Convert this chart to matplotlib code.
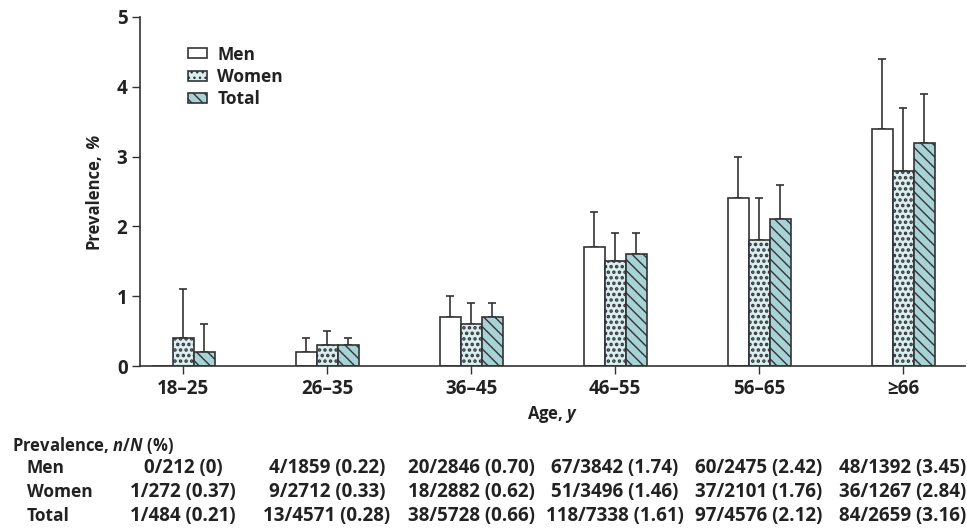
import matplotlib
matplotlib.use("Agg")
import matplotlib.pyplot as plt
import matplotlib.transforms as mtransforms
import numpy as np

plt.rcParams['font.family'] = ['Open Sans', 'DejaVu Sans']
plt.rcParams['font.weight'] = 'bold'
plt.rcParams['axes.labelweight'] = 'bold'
plt.rcParams['mathtext.fontset'] = 'custom'
plt.rcParams['mathtext.it'] = 'Open Sans:bold:italic'
plt.rcParams['mathtext.rm'] = 'Open Sans:bold'
plt.rcParams['mathtext.bf'] = 'Open Sans:bold'

categories = ["18–25", "26–35", "36–45", "46–55", "56–65", "≥66"]
series = ["Men", "Women", "Total"]
men = [0.0, 0.2, 0.7, 1.7, 2.4, 3.4]
women = [0.4, 0.3, 0.6, 1.5, 1.8, 2.8]
total = [0.2, 0.3, 0.7, 1.6, 2.1, 3.2]
men_upper = [0.0, 0.4, 1.0, 2.2, 3.0, 4.4]
women_upper = [1.1, 0.5, 0.9, 1.9, 2.4, 3.7]
total_upper = [0.6, 0.4, 0.9, 1.9, 2.6, 3.9]

table_header = "Prevalence, $n/N$ (%)"
table_rows = ["Men", "Women", "Total"]
men_counts = ["0/212 (0)", "4/1859 (0.22)", "20/2846 (0.70)", "67/3842 (1.74)", "60/2475 (2.42)", "48/1392 (3.45)"]
women_counts = ["1/272 (0.37)", "9/2712 (0.33)", "18/2882 (0.62)", "51/3496 (1.46)", "37/2101 (1.76)", "36/1267 (2.84)"]
total_counts = ["1/484 (0.21)", "13/4571 (0.28)", "38/5728 (0.66)", "118/7338 (1.61)", "97/4576 (2.12)", "84/2659 (3.16)"]

W, H = 967, 528
fig = plt.figure(figsize=(W / 100, H / 100), dpi=100)
ax = fig.add_axes([140 / W, 1 - 366 / H, 825 / W, 349 / H])

edge = '#333333'
txt = '#222222'
fills = ['white', '#d8eef0', '#a7d2d6']
hatches = [None, '...', '\\\\\\']
hatch_lw = [1.0, 1.7, 1.0]
values = [men, women, total]
uppers = [men_upper, women_upper, total_upper]

x = np.arange(len(categories))
bw = 0.146
offsets = [-bw, 0, bw]
handles = []
for i in range(3):
    plt.rcParams['hatch.linewidth'] = hatch_lw[i]
    plt.rcParams['hatch.color'] = edge
    b = ax.bar(x + offsets[i], values[i], width=bw, color=fills[i], edgecolor=edge,
               linewidth=1.2, hatch=hatches[i], label=series[i], zorder=2)
    handles.append(b)
    v = np.array(values[i])
    u = np.array(uppers[i])
    m = u > v
    ax.errorbar(x[m] + offsets[i], v[m], yerr=[np.zeros(m.sum()), (u - v)[m]],
                fmt='none', ecolor=edge, elinewidth=1.2, capsize=2.6, capthick=1.2, zorder=1)

ax.set_xlim(-0.299, 5.43)
ax.set_ylim(0, 5)
ax.set_xticks(x)
ax.set_xticklabels(categories)
ax.set_yticks([0, 1, 2, 3, 4, 5])
for s in ['top', 'right']:
    ax.spines[s].set_visible(False)
for s in ['left', 'bottom']:
    ax.spines[s].set_color(edge)
    ax.spines[s].set_linewidth(1.2)
ax.tick_params(axis='both', colors=edge, labelcolor=txt, length=6, width=1.0,
               labelsize=13.5, pad=3)

ax.set_ylabel("Prevalence,", fontsize=12, color=txt, fontweight='bold')
ax.yaxis.set_label_coords(-0.045, 0.473)
ax.annotate("%", xy=(0.5, 1), xycoords=ax.yaxis.label, xytext=(0, 3),
            textcoords='offset points', rotation=90, ha='center', va='bottom',
            fontsize=12, color=txt, fontweight='bold', fontstyle='italic')
ax.set_xlabel("Age, $y$", fontsize=12, color=txt, fontweight='bold')
ax.xaxis.set_label_coords(0.5, -0.11)

leg = ax.legend(handles=handles, loc='upper left', bbox_to_anchor=(0.0475, 0.943),
                frameon=False, fontsize=12.5, borderpad=0, handlelength=1.1,
                handleheight=0.5, handletextpad=0.6, labelspacing=0.25)
for t in leg.get_texts():
    t.set_color(txt)

trans = mtransforms.blended_transform_factory(ax.transData, fig.transFigure)
fig.text(12 / W, 1 - 446 / H, table_header, fontsize=12, va='center', ha='left', color=txt)
rows_y = [468, 492, 516]
for r, label, vals in zip(range(3), table_rows, [men_counts, women_counts, total_counts]):
    fig.text(27 / W, 1 - rows_y[r] / H, label, fontsize=12.5, va='center', ha='left', color=txt)
    for j, s in enumerate(vals):
        fig.text(x[j], 1 - rows_y[r] / H, s, transform=trans, fontsize=13.5, va='center',
                 ha='center', color=txt)

fig.savefig("out.png", dpi=100)
